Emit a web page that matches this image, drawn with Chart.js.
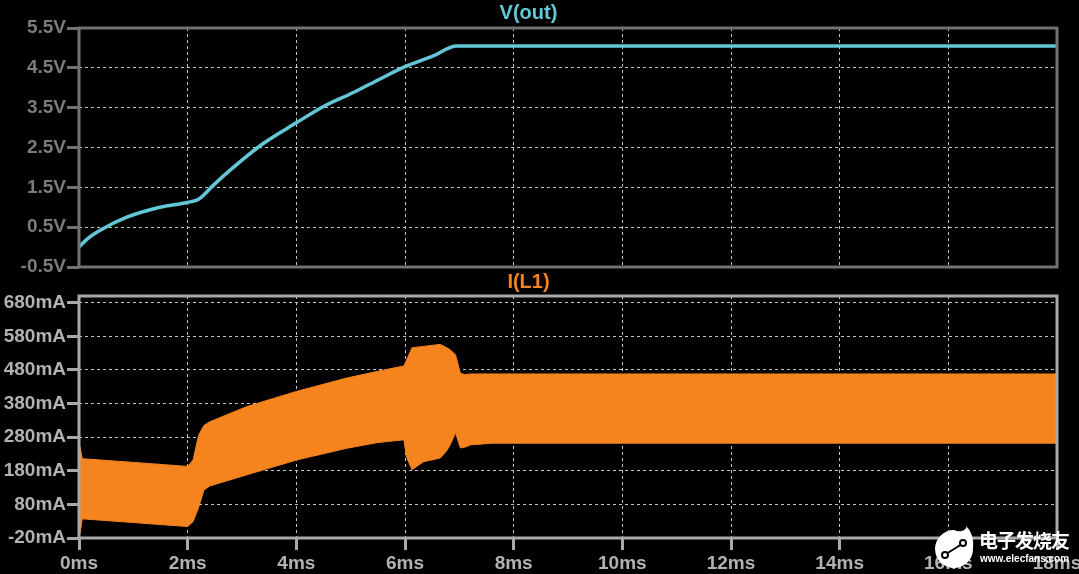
<!DOCTYPE html>
<html>
<head>
<meta charset="utf-8">
<script src="https://cdn.jsdelivr.net/npm/chart.js@4.4.1/dist/chart.umd.min.js"></script>
<style>
  body { margin: 0; background: #000; width: 1079px; height: 574px; overflow: hidden; position: relative; font-family: "Liberation Sans", Arial, sans-serif; }
  #cajaArriba { position: absolute; left: 0; top: 0; width: 1110px; height: 280px; }
  #cajaAbajo { position: absolute; left: 0; top: 270px; width: 1110px; height: 304px; }
  #marcaAgua { position: absolute; left: 932px; top: 526px; width: 145px; height: 44px; }
  #marcaAgua .txt { position: absolute; left: 47px; top: 0px; color: #fff; font: bold 19px "Noto Sans CJK SC"; letter-spacing: -1px; }
  #marcaAgua .web { position: absolute; left: 48px; top: 27px; color: #fff; font: bold 10px "Liberation Sans"; }
</style>
</head>
<body>
<div id="cajaArriba"><canvas id="graficoV"></canvas></div>
<div id="cajaAbajo"><canvas id="graficoI"></canvas></div>
<div id="marcaAgua">
  <svg width="44" height="44" style="position:absolute;left:0;top:0">
    <path d="M22 4 C 30 8, 36 2, 34 0 C 40 6, 42 14, 41 22 A 19 19 0 1 1 22 4 Z" fill="#fff"/>
    <line x1="14" y1="28" x2="30" y2="18" stroke="#000" stroke-width="2"/>
    <circle cx="13" cy="29" r="3" fill="#fff" stroke="#000" stroke-width="2"/>
    <circle cx="31" cy="17" r="3" fill="#fff" stroke="#000" stroke-width="2"/>
  </svg>
  <div class="txt">电子发烧友</div>
  <div class="web">www.elecfans.com</div>
</div>
<script>
// datos (tiempo en ms)
const vTiempo = [0, 0.15, 0.39, 0.88, 1.49, 1.99, 2.2, 2.47, 2.84, 3.39, 4.0, 4.5, 5.05, 5.54, 5.98, 6.52, 6.95, 18];
const vSalida = [0.0, 0.2, 0.42, 0.75, 1.0, 1.12, 1.2, 1.55, 2.0, 2.6, 3.12, 3.53, 3.88, 4.22, 4.52, 4.8, 5.05, 5.05];

// corriente de la bobina: envolvente superior e inferior del rizado (mA)
const iTiempo = [0, 0.02, 0.06, 1.0, 2.0, 2.1, 2.2, 2.3, 2.41, 3.09, 4.0, 4.93, 5.5, 5.98, 6.03, 6.13, 6.34, 6.65, 6.77, 6.83, 6.93, 7.02, 7.1, 7.2, 7.6, 18];
const iSuperior = [245, 251, 216, 205, 193, 212, 285, 315, 326, 371, 416, 456, 476, 492, 510, 546, 550, 556, 546, 540, 525, 470, 466, 468, 468, 468];
const iInferior = [-15, -5, 37, 26, 14, 29, 70, 123, 135, 168, 212, 247, 264, 272, 220, 183, 207, 218, 240, 257, 293, 248, 250, 257, 262, 262];

// marcas de los ejes
const tMarcas = [0, 2, 4, 6, 8, 10, 12, 14, 16, 18];
const vMarcas = [-0.5, 0.5, 1.5, 2.5, 3.5, 4.5, 5.5];
const iMarcas = [-20, 80, 180, 280, 380, 480, 580, 680];

const cian = "#62c7d7";
const naranja = "#f5841f";
const fuente = "Liberation Sans";

// dibuja el recuadro completo del area del grafico
const marco = {
  id: "marco",
  afterDatasetsDraw(chart, args, opts) {
    const a = chart.chartArea;
    const ctx = chart.ctx;
    ctx.save();
    ctx.strokeStyle = opts.color;
    ctx.lineWidth = 3;
    ctx.strokeRect(a.left, a.top, a.right - a.left, a.bottom - a.top);
    ctx.restore();
  }
};

function puntos(xs, ys) {
  return xs.map((x, i) => ({ x: x, y: ys[i] }));
}

// configuracion del panel de arriba V(out)
const configV = {
  type: "line",
  data: {
    datasets: [{
      label: "V(out)",
      data: puntos(vTiempo, vSalida),
      borderColor: cian,
      borderWidth: 3.5,
      pointRadius: 0,
      cubicInterpolationMode: "monotone"
    }]
  },
  options: {
    responsive: true,
    maintainAspectRatio: false,
    animation: false,
    layout: { autoPadding: false, padding: { left: 0, right: 53, top: 0, bottom: 0 } },
    plugins: {
      legend: { display: false },
      tooltip: { enabled: false },
      title: {
        display: true, text: "V(out)", color: cian,
        font: { family: fuente, size: 20, weight: "bold", lineHeight: 1.2 },
        padding: { top: 1, bottom: 3 }
      },
      marco: { color: "#727272" }
    },
    scales: {
      x: {
        type: "linear", min: 0, max: 18,
        afterBuildTicks: (s) => { s.ticks = tMarcas.map(v => ({ value: v })); },
        afterFit: (s) => { s.height = 13; },
        ticks: { display: false },
        grid: { color: "#c4c4c4", lineWidth: 1, drawTicks: false },
        border: { display: false, dash: [3, 3] }
      },
      y: {
        min: -0.5, max: 5.5,
        afterBuildTicks: (s) => { s.ticks = vMarcas.map(v => ({ value: v })); },
        afterFit: (s) => { s.width = 79; },
        ticks: {
          color: "#7c7c7c", padding: 1,
          font: { family: fuente, size: 19, weight: "bold" },
          callback: (v) => v + "V"
        },
        grid: { color: "#c4c4c4", lineWidth: 1, tickLength: 12, tickColor: "#727272", tickWidth: 3 },
        border: { display: false, dash: [3, 3] }
      }
    }
  },
  plugins: [marco]
};

// configuracion del panel de abajo I(L1)
const configI = {
  type: "line",
  data: {
    datasets: [{
      label: "sup",
      data: puntos(iTiempo, iSuperior),
      borderColor: naranja,
      borderWidth: 1,
      pointRadius: 0,
      fill: false
    }, {
      label: "inf",
      data: puntos(iTiempo, iInferior),
      borderColor: naranja,
      backgroundColor: naranja,
      borderWidth: 1,
      pointRadius: 0,
      fill: "-1"
    }]
  },
  options: {
    responsive: true,
    maintainAspectRatio: false,
    animation: false,
    layout: { autoPadding: false, padding: { left: 0, right: 53, top: 0, bottom: 0 } },
    plugins: {
      legend: { display: false },
      tooltip: { enabled: false },
      title: {
        display: true, text: "I(L1)", color: naranja,
        font: { family: fuente, size: 20, weight: "bold", lineHeight: 1.2 },
        padding: { top: 0, bottom: 2 }
      },
      marco: { color: "#a9a9a9" }
    },
    scales: {
      x: {
        type: "linear", min: 0, max: 18,
        afterBuildTicks: (s) => { s.ticks = tMarcas.map(v => ({ value: v })); },
        afterFit: (s) => { s.height = 36; },
        ticks: {
          color: "#b2b2b2", padding: 2, maxRotation: 0,
          font: { family: fuente, size: 19, weight: "bold" },
          callback: (v) => v + "ms"
        },
        grid: { color: "#c4c4c4", lineWidth: 1, tickLength: 12, tickColor: "#a9a9a9", tickWidth: 3 },
        border: { display: false, dash: [3, 3] }
      },
      y: {
        min: -20, max: 700,
        afterBuildTicks: (s) => { s.ticks = iMarcas.map(v => ({ value: v })); },
        afterFit: (s) => { s.width = 79; },
        ticks: {
          color: "#b2b2b2", padding: 1,
          font: { family: fuente, size: 19, weight: "bold" },
          callback: (v) => v + "mA"
        },
        grid: { color: "#c4c4c4", lineWidth: 1, tickLength: 12, tickColor: "#a9a9a9", tickWidth: 3 },
        border: { display: false, dash: [3, 3] }
      }
    }
  },
  plugins: [marco]
};

new Chart(document.getElementById("graficoV"), configV);
new Chart(document.getElementById("graficoI"), configI);
</script>
</body>
</html>
